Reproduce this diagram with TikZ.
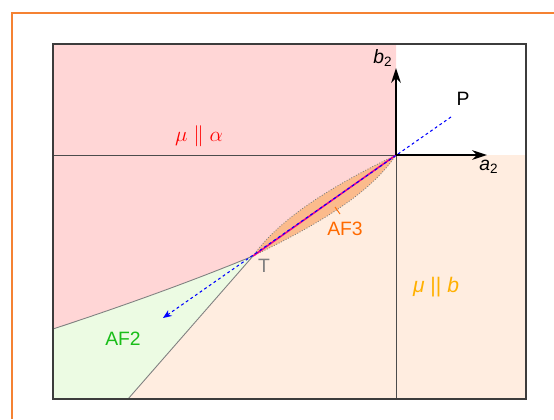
\documentclass[tikz,border=0pt]{standalone}
\usepackage{fontspec}
\setmainfont{Liberation Sans}
\usetikzlibrary{arrows.meta}

\definecolor{framecol}{RGB}{245,130,50}
\definecolor{pinkreg}{RGB}{255,214,214}
\definecolor{peachreg}{RGB}{255,237,224}
\definecolor{greenreg}{RGB}{236,251,227}
\definecolor{lenscol}{RGB}{251,187,140}
\definecolor{afthree}{RGB}{255,106,0}
\definecolor{aftwo}{RGB}{25,190,25}
\definecolor{mubcol}{RGB}{255,176,0}
\definecolor{boxcol}{RGB}{60,60,60}

\begin{document}
\begin{tikzpicture}[x=0.02cm,y=-0.02cm,
    font=\fontsize{11}{13}\selectfont,
    border/.style={gray!60!black,line width=0.5pt},
    phase/.style={gray,line width=0.5pt},
    axis/.style={-{Stealth[length=8.5pt,width=5.5pt]},line width=1.2pt},
    lens/.style={fill=lenscol,draw=gray,densely dotted,line width=0.5pt}]
    \useasboundingbox (0,0) rectangle (554,419);

    \coordinate (O) at (396,155);
    \coordinate (T) at (253,256);
    \coordinate (P) at (451,117);
    \coordinate (tip) at (163,318);
    \coordinate (L) at (53,329);
    \coordinate (B) at (128,399);

    % regions
    \fill[pinkreg] (53,44) -- (396,44) -- (O) -- (T) .. controls (190,282) and (120,307) .. (L) -- cycle;
    \fill[peachreg] (O) -- (526,155) -- (526,399) -- (B) -- (T) -- cycle;
    \fill[greenreg] (T) .. controls (190,282) and (120,307) .. (L) -- (53,399) -- (B) -- cycle;
    \filldraw[lens] (T) .. controls (280,218) and (332,186) .. (O) .. controls (370,194) and (317,225) .. (T);

    \draw[border] (53,155) -- (O);
    \draw[border] (O) -- (396,399);
    \draw[phase] (T) .. controls (190,282) and (120,307) .. (L);
    \draw[phase] (T) -- (B);
    \draw[boxcol,line width=0.8pt] (53,44) rectangle (526,399);

    \draw[magenta,line width=0.9pt] (O) -- (T);
    \draw[blue,dash pattern=on 1.6pt off 1.6pt,line width=0.6pt,-{Stealth[length=5pt,width=4pt]}] (P) -- (tip);

    \draw[axis] (O) -- (487,155);
    \draw[axis] (O) -- (396,68);

    \draw[afthree,line width=0.5pt] (335,207) -- (340,214);

    \node[red,font=\fontsize{12}{14}\selectfont] (mua) at (199,136) {$\mu \parallel \alpha$};
    \node[mubcol,font=\fontsize{12}{14}\selectfont] (mub) at (436,287) {\textit{μ} || \textit{b}};
    \node[aftwo] (af2) at (123,339) {AF2};
    \node[afthree] (af3) at (345,229) {AF3};
    \node[gray] (tlab) at (264,266) {T};
    \node (plab) at (463,99) {P};
    \node (alab) at (489,167) {\textit{a}\textsubscript{2}};
    \node (blab) at (383,58) {\textit{b}\textsubscript{2}};

    \draw[framecol,line width=0.8pt] (12,419) -- (12,13) -- (554,13);
\end{tikzpicture}
\end{document}
